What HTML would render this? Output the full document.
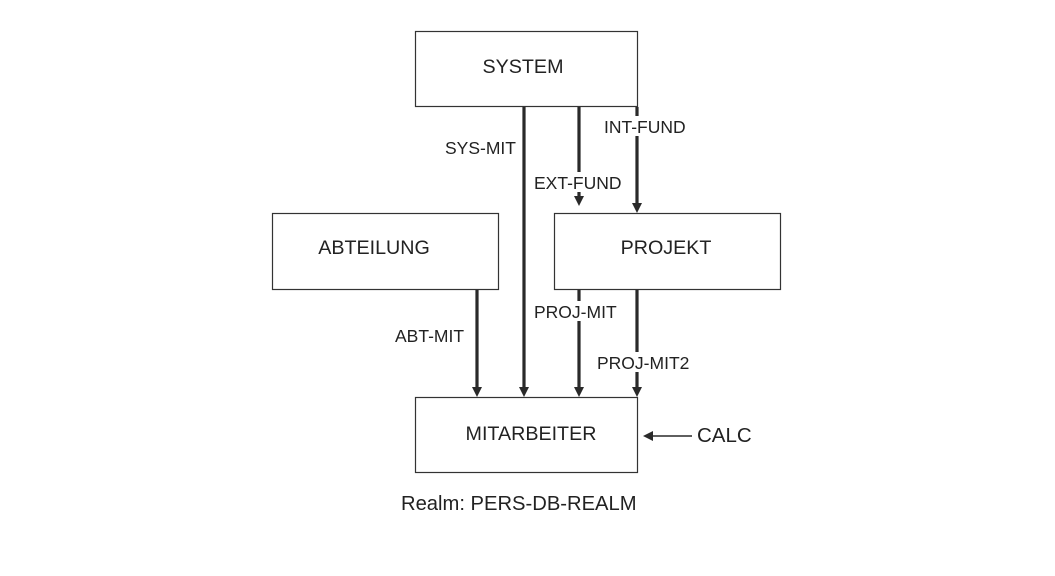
<!DOCTYPE html>
<html><head><style>
body{margin:0;background:#fff;width:1055px;height:571px;overflow:hidden;font-family:"Liberation Sans",sans-serif}
</style></head><body>
<svg width="1055" height="571" xmlns="http://www.w3.org/2000/svg" font-family="Liberation Sans, sans-serif" fill="#222">
<g fill="none" stroke="#333" stroke-width="1.2">
<rect x="415.5" y="31.5" width="222" height="75"/>
<rect x="272.5" y="213.5" width="226" height="76"/>
<rect x="554.5" y="213.5" width="226" height="76"/>
<rect x="415.5" y="397.5" width="222" height="75"/>
</g>
<g stroke="#2a2a2a" stroke-width="3.2">
<line x1="524" y1="107" x2="524" y2="388"/>
<line x1="579" y1="107" x2="579" y2="196"/>
<line x1="637" y1="107" x2="637" y2="204"/>
<line x1="477" y1="290" x2="477" y2="388"/>
<line x1="579" y1="290" x2="579" y2="388"/>
<line x1="637" y1="290" x2="637" y2="388"/>
</g>
<line x1="653" y1="436" x2="692" y2="436" stroke="#2a2a2a" stroke-width="1.5"/>
<g fill="#2a2a2a">
<polygon points="472,387 482,387 477,397"/>
<polygon points="519,387 529,387 524,397"/>
<polygon points="574,387 584,387 579,397"/>
<polygon points="632,387 642,387 637,397"/>
<polygon points="574,196 584,196 579,206"/>
<polygon points="632,203 642,203 637,213"/>
<polygon points="643,436 653,431 653,441"/>
</g>
<g fill="#fff">
<rect x="531" y="172" width="94" height="20"/>
<rect x="601" y="116" width="90" height="20"/>
<rect x="531" y="301" width="90" height="20"/>
<rect x="594" y="352" width="100" height="20"/>
</g>
<g font-size="19.7" text-anchor="middle">
<text x="523" y="73">SYSTEM</text>
<text x="374" y="254">ABTEILUNG</text>
<text x="666" y="254">PROJEKT</text>
<text x="531" y="440">MITARBEITER</text>
</g>
<g font-size="17.5">
<text x="445" y="154">SYS-MIT</text>
<text x="534" y="189">EXT-FUND</text>
<text x="604" y="133">INT-FUND</text>
<text x="395" y="342">ABT-MIT</text>
<text x="534" y="318">PROJ-MIT</text>
<text x="597" y="369">PROJ-MIT2</text>
<text x="697" y="442" font-size="20.5">CALC</text>
<text x="401" y="510" font-size="20.2">Realm: PERS-DB-REALM</text>
</g>
</svg>
</body></html>
